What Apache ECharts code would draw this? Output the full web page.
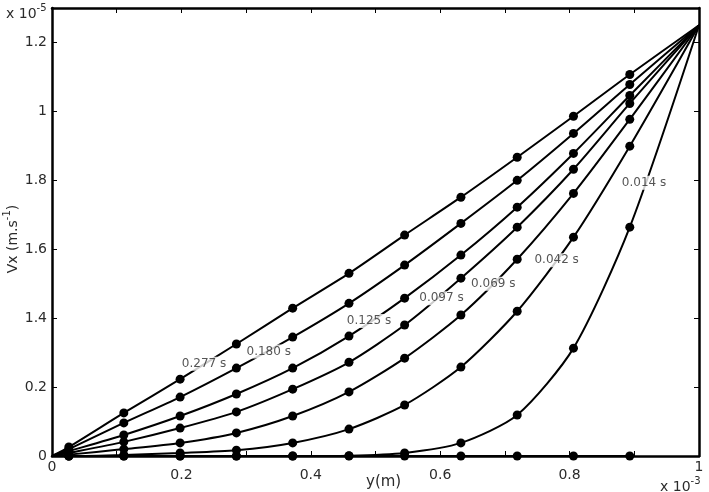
<!DOCTYPE html>
<html><head><meta charset="utf-8">
<script src="https://cdn.jsdelivr.net/npm/echarts@6/dist/echarts.min.js"></script>
<style>html,body{margin:0;padding:0;background:#fff}#c{width:709px;height:492px}</style>
</head><body><div id="c"></div>
<script>
// y position (m, x 1e-3) of the sampled points
const xPos = [0, 0.026, 0.111, 0.198, 0.285, 0.372, 0.459, 0.545, 0.632, 0.719, 0.806, 0.893, 1.0];
// Vx values (x 1e-5 m/s) for each time
const timeLabels = ['0.277 s', '0.180 s', '0.125 s', '0.097 s', '0.069 s', '0.042 s', '0.014 s'];
const v277 = [0, 0.026, 0.125, 0.223, 0.325, 0.429, 0.530, 0.641, 0.751, 0.867, 0.986, 1.107, 1.25];
const v180 = [0, 0.020, 0.096, 0.171, 0.255, 0.345, 0.443, 0.554, 0.675, 0.800, 0.936, 1.078, 1.25];
const v125 = [0, 0.014, 0.061, 0.116, 0.180, 0.255, 0.348, 0.458, 0.583, 0.722, 0.878, 1.046, 1.25];
const v097 = [0, 0.009, 0.041, 0.081, 0.128, 0.194, 0.272, 0.380, 0.516, 0.664, 0.832, 1.023, 1.25];
const v069 = [0, 0.004, 0.020, 0.038, 0.067, 0.116, 0.186, 0.284, 0.409, 0.571, 0.762, 0.977, 1.25];
const v042 = [0, 0.000, 0.003, 0.009, 0.017, 0.038, 0.078, 0.148, 0.258, 0.420, 0.635, 0.899, 1.25];
const v014 = [0, 0, 0, 0, 0, 0, 0.001, 0.009, 0.038, 0.119, 0.313, 0.664, 1.25];
const vInit = [0, 0, 0, 0, 0, 0, 0, 0, 0, 0, 0, 0];
// tick labels as printed
const yTickValues = [0, 0.2, 0.4, 0.6, 0.8, 1.0, 1.2];
const yTickLabels = ['0', '0.2', '1.4', '1.6', '1.8', '1', '1.2'];
const xTickLabels = ['0', '0.2', '0.4', '0.6', '0.8', '1'];

// placement of the inline curve labels (data coordinates), kept apart from the data
const labelAnchors = [[0.235, 0.268], [0.335, 0.303], [0.490, 0.392], [0.602, 0.458], [0.682, 0.500], [0.780, 0.568], [0.915, 0.793]];

const curves = [v277, v180, v125, v097, v069, v042, v014];
const FONT = 'DejaVu Sans, sans-serif';
const TXT = '#2b2b2b';

function makeLine(vals) {
  const n = vals.length;
  return {
    type: 'line', smooth: 0.25,
    symbol: 'circle', showAllSymbol: true,
    lineStyle: {color: '#000', width: 2},
    itemStyle: {color: '#000'},
    z: 3,
    data: vals.map((v, i) => ({
      value: [xPos[i], v],
      symbolSize: (i === 0 || (i === n - 1 && xPos[i] === 1)) ? 0 : 9
    }))
  };
}

const series = curves.map(makeLine);
series.push(makeLine(vInit));
series.push({
  type: 'scatter', z: 6, symbolSize: 1, itemStyle: {color: 'rgba(0,0,0,0)'},
  label: {
    show: true, position: 'inside', formatter: '{b}',
    color: TXT, fontSize: 12, fontFamily: FONT,
    backgroundColor: '#fff', padding: [1, 1]
  },
  data: labelAnchors.map((p, i) => ({name: timeLabels[i], value: p}))
});

const axisLineStyle = {color: '#000', width: 2.5};
const chart = echarts.init(document.getElementById('c'), null, {renderer: 'canvas'});
chart.setOption({
  animation: false,
  backgroundColor: '#fff',
  grid: {left: 52, right: 10, top: 8, bottom: 36, containLabel: false},
  xAxis: [{
    type: 'value', min: 0, max: 1, interval: 0.1, position: 'bottom',
    axisLine: {show: true, onZero: false, lineStyle: axisLineStyle},
    axisTick: {show: true, inside: true, length: 5, lineStyle: {color: '#000', width: 1}},
    splitLine: {show: false},
    axisLabel: {
      margin: 4, color: TXT, fontSize: 14, fontFamily: FONT,
      showMinLabel: true, showMaxLabel: true,
      formatter: function (v) {
        const k = Math.round(v * 10);
        if (k % 2) return '';
        const t = xTickLabels[k / 2];
        if (t === undefined) return '';
        return (k === 0 || k === 10) ? t : '{n|' + t + '}';
      },
      rich: {n: {fontSize: 14, color: TXT, fontFamily: FONT, padding: [8, 0, 0, 0]}}
    }
  }, {
    type: 'value', min: 0, max: 1, interval: 0.1, position: 'top',
    axisLine: {show: true, onZero: false, lineStyle: axisLineStyle},
    axisTick: {show: true, inside: true, length: 5, lineStyle: {color: '#000', width: 1}},
    splitLine: {show: false}, axisLabel: {show: false}
  }],
  yAxis: [{
    type: 'value', min: 0, max: 1.3, interval: 0.2, position: 'left',
    axisLine: {show: true, onZero: false, lineStyle: axisLineStyle},
    axisTick: {show: true, inside: true, length: 5, lineStyle: {color: '#000', width: 1}},
    splitLine: {show: false},
    axisLabel: {
      margin: 5, color: TXT, fontSize: 14, fontFamily: FONT,
      formatter: function (v) {
        const i = yTickValues.findIndex(t => Math.abs(t - v) < 1e-6);
        return i < 0 ? '' : yTickLabels[i];
      }
    }
  }, {
    type: 'value', min: 0, max: 1.3, interval: 0.2, position: 'right',
    axisLine: {show: true, onZero: false, lineStyle: axisLineStyle},
    axisTick: {show: true, inside: true, length: 5, lineStyle: {color: '#000', width: 1}},
    splitLine: {show: false}, axisLabel: {show: false}
  }],
  series: series,
  graphic: [
    {type: 'text', left: 6, top: 3, style: {
      text: '{b|x 10}{s|-5}', rich: {
        b: {fontSize: 14, fontFamily: FONT, fill: TXT, lineHeight: 18, verticalAlign: 'bottom'},
        s: {fontSize: 10, fontFamily: FONT, fill: TXT, lineHeight: 18, verticalAlign: 'top', padding: [0, 0, 6, 0]}}}},
    {type: 'text', left: 660, top: 476, style: {
      text: '{b|x 10}{s|-3}', rich: {
        b: {fontSize: 14, fontFamily: FONT, fill: TXT, lineHeight: 18, verticalAlign: 'bottom'},
        s: {fontSize: 10, fontFamily: FONT, fill: TXT, lineHeight: 18, verticalAlign: 'top', padding: [0, 0, 6, 0]}}}},
    {type: 'text', left: 366, top: 475, style: {text: 'y(m)', fontSize: 15, fontFamily: FONT, fill: TXT}},
    {type: 'text', x: 2, y: 239, rotation: Math.PI / 2, style: {
      text: '{b|Vx (m.s}{s|-1}{b|)}', align: 'center', verticalAlign: 'top', rich: {
        b: {fontSize: 14, fontFamily: FONT, fill: TXT, lineHeight: 18, verticalAlign: 'bottom'},
        s: {fontSize: 10, fontFamily: FONT, fill: TXT, lineHeight: 18, verticalAlign: 'top', padding: [0, 0, 6, 0]}}}}
  ]
});
</script>
</body></html>
